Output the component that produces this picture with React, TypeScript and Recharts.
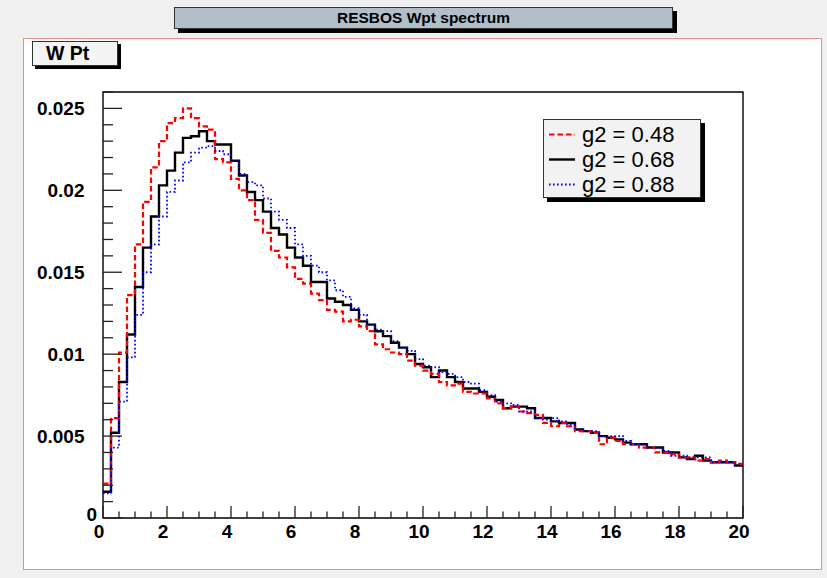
import React from "react";
import { LineChart, Line, XAxis, YAxis, ReferenceArea } from "recharts";

// Histogram: W transverse momentum spectrum, 80 bins of 0.25 GeV from 0 to 20
const BIN_WIDTH = 0.25;
const N_BINS = 80;

const G2_048 = [
  0.0021, 0.0061, 0.0101, 0.0136, 0.0167, 0.0193, 0.0214, 0.0230, 0.0241, 0.0244,
  0.0250, 0.0244, 0.0239, 0.0237, 0.0219, 0.0217, 0.0207, 0.0200, 0.0194, 0.0182,
  0.0174, 0.0163, 0.0159, 0.0153, 0.0146, 0.0143, 0.0137, 0.0133, 0.0127, 0.0126,
  0.0120, 0.0121, 0.0117, 0.0114, 0.0106, 0.0103, 0.0101, 0.0100, 0.0096, 0.0093,
  0.0090, 0.0088, 0.0083, 0.0081, 0.0082, 0.0077, 0.0076, 0.0076, 0.0073, 0.0070,
  0.0067, 0.0068, 0.0065, 0.0064, 0.0063, 0.0058, 0.0056, 0.0058, 0.0056, 0.0053,
  0.0053, 0.0052, 0.0045, 0.0049, 0.0047, 0.0045, 0.0045, 0.0043, 0.0043, 0.0040,
  0.0040, 0.0039, 0.0037, 0.0037, 0.0035, 0.0036, 0.0034, 0.0035, 0.0034, 0.0033,
];

const G2_068 = [
  0.0016, 0.0052, 0.0083, 0.0112, 0.0141, 0.0165, 0.0184, 0.0203, 0.0212, 0.0223,
  0.0232, 0.0233, 0.0236, 0.0230, 0.0228, 0.0228, 0.0218, 0.0209, 0.0199, 0.0194,
  0.0187, 0.0177, 0.0173, 0.0165, 0.0159, 0.0154, 0.0144, 0.0144, 0.0134, 0.0132,
  0.0130, 0.0127, 0.0120, 0.0118, 0.0114, 0.0111, 0.0107, 0.0104, 0.0100, 0.0094,
  0.0092, 0.0086, 0.0090, 0.0086, 0.0083, 0.0079, 0.0079, 0.0077, 0.0074, 0.0072,
  0.0067, 0.0068, 0.0068, 0.0067, 0.0061, 0.0061, 0.0059, 0.0058, 0.0058, 0.0054,
  0.0053, 0.0052, 0.0050, 0.0049, 0.0048, 0.0046, 0.0045, 0.0045, 0.0043, 0.0043,
  0.0040, 0.0040, 0.0037, 0.0036, 0.0038, 0.0035, 0.0034, 0.0034, 0.0034, 0.0032,
];

const G2_088 = [
  0.0015, 0.0043, 0.0071, 0.0098, 0.0124, 0.0150, 0.0167, 0.0184, 0.0199, 0.0206,
  0.0217, 0.0223, 0.0226, 0.0227, 0.0224, 0.0222, 0.0218, 0.0210, 0.0205, 0.0203,
  0.0195, 0.0187, 0.0182, 0.0177, 0.0167, 0.0160, 0.0154, 0.0150, 0.0145, 0.0139,
  0.0135, 0.0128, 0.0124, 0.0118, 0.0115, 0.0114, 0.0108, 0.0104, 0.0102, 0.0097,
  0.0093, 0.0092, 0.0089, 0.0088, 0.0086, 0.0083, 0.0082, 0.0078, 0.0075, 0.0071,
  0.0070, 0.0069, 0.0065, 0.0065, 0.0061, 0.0060, 0.0061, 0.0059, 0.0057, 0.0054,
  0.0053, 0.0053, 0.0050, 0.0050, 0.0050, 0.0047, 0.0045, 0.0045, 0.0043, 0.0043,
  0.0041, 0.0038, 0.0038, 0.0037, 0.0037, 0.0037, 0.0034, 0.0034, 0.0034, 0.0033,
];

const X_MAJOR_TICKS = [0, 2, 4, 6, 8, 10, 12, 14, 16, 18, 20];
const X_TICK_LABELS = ["0", "2", "4", "6", "8", "10", "12", "14", "16", "18", "20"];
const X_MINOR_STEP = 0.5;

const Y_MAJOR_TICKS = [0, 0.005, 0.01, 0.015, 0.02, 0.025];
const Y_TICK_LABELS = ["0", "0.005", "0.01", "0.015", "0.02", "0.025"];
const Y_MINOR_STEP = 0.001;
const Y_MAX = 0.026;
const X_MAX = 20;

const TITLE = "RESBOS Wpt spectrum";
const HIST_NAME = "W Pt";

const SERIES = [
  { key: "g048", label: "g2 = 0.48", values: G2_048, color: "#ff0000", width: 2.2, dash: "5.5 3" },
  { key: "g068", label: "g2 = 0.68", values: G2_068, color: "#000000", width: 2.4, dash: undefined as string | undefined },
  { key: "g088", label: "g2 = 0.88", values: G2_088, color: "#0000ff", width: 1.8, dash: "1.6 2.4" },
];
const DRAW_ORDER = ["g068", "g048", "g088"];

// step data: one point at each bin's lower edge, plus the closing edge
const DATA = Array.from({ length: N_BINS + 1 }, (_, i) => {
  const row: Record<string, number> = { pt: i * BIN_WIDTH };
  SERIES.forEach((s) => {
    row[s.key] = s.values[Math.min(i, N_BINS - 1)];
  });
  return row;
});

const round = (v: number, d: number) => Math.round(v * 10 ** d) / 10 ** d;
const X_TICKS = Array.from({ length: Math.round(X_MAX / X_MINOR_STEP) + 1 }, (_, i) => round(i * X_MINOR_STEP, 3));
const Y_TICKS = Array.from({ length: Math.round(Y_MAX / Y_MINOR_STEP) + 1 }, (_, i) => round(i * Y_MINOR_STEP, 4));

const AXIS_FONT = "'Liberation Sans', Arial, Helvetica, sans-serif";

const XTick = (props: any) => {
  const { x, y, payload } = props;
  const v = payload.value as number;
  const idx = X_MAJOR_TICKS.findIndex((t) => Math.abs(t - v) < 1e-6);
  const major = idx >= 0;
  return (
    <g>
      <line x1={x} x2={x} y1={y} y2={y - (major ? 12 : 6.5)} stroke="#222" strokeWidth={1.3} />
      {major && (
        <text x={x - 4} y={y + 20} textAnchor="middle" fontFamily={AXIS_FONT} fontWeight="bold" fontSize={19} fill="#000">
          {X_TICK_LABELS[idx]}
        </text>
      )}
    </g>
  );
};

const YTick = (props: any) => {
  const { x, y, payload } = props;
  const v = payload.value as number;
  const idx = Y_MAJOR_TICKS.findIndex((t) => Math.abs(t - v) < 1e-7);
  const major = idx >= 0;
  const isZero = major && Y_MAJOR_TICKS[idx] === 0;
  return (
    <g>
      <line x1={x} x2={x + (major ? 19 : 10)} y1={y} y2={y} stroke="#222" strokeWidth={1.3} />
      {major && (
        <text
          x={isZero ? x - 6 : x - 18.5}
          y={isZero ? y + 2.5 : y + 7}
          textAnchor="end"
          fontFamily={AXIS_FONT}
          fontWeight="bold"
          fontSize={19}
          fill="#000"
        >
          {Y_TICK_LABELS[idx]}
        </text>
      )}
    </g>
  );
};

export default function App() {
  const ordered = DRAW_ORDER.map((k) => SERIES.find((s) => s.key === k)!);
  return (
    <div style={{ position: "absolute", left: 0, top: 0, width: 827, height: 578, background: "#f0f0f0", overflow: "hidden", fontFamily: AXIS_FONT }}>
      {/* pad */}
      <div style={{ position: "absolute", left: 23, top: 38, width: 797, height: 530, background: "#ffffff", border: "1px solid #e58f8f" }} />
      {/* title box */}
      <div
        style={{
          position: "absolute", left: 174, top: 7, width: 497, height: 20, background: "#b2bfc9",
          border: "1px solid #333", boxShadow: "4px 4px 0 #000", display: "flex", alignItems: "center",
          justifyContent: "center", fontWeight: "bold", fontSize: 15.5, color: "#000",
        }}
      >
        {TITLE}
      </div>
      {/* histogram name box */}
      <div
        style={{
          position: "absolute", left: 32, top: 41, width: 86, height: 25, background: "#f4f4f4",
          border: "1px solid #333", boxShadow: "3px 3px 0 #000", display: "flex", alignItems: "center",
          paddingLeft: 13, boxSizing: "border-box", fontWeight: "bold", fontSize: 19.5, color: "#000",
        }}
      >
        {HIST_NAME}
      </div>
      <div style={{ position: "absolute", left: 0, top: 0 }}>
        <LineChart width={827} height={578} data={DATA} margin={{ top: 92, right: 84, bottom: 30, left: 43 }}>
          <XAxis
            dataKey="pt"
            type="number"
            domain={[0, X_MAX]}
            ticks={X_TICKS}
            interval={0}
            tickSize={0}
            tickMargin={0}
            tickLine={false}
            axisLine={false}
            height={30}
            tick={<XTick />}
            allowDataOverflow
          />
          <YAxis
            type="number"
            domain={[0, Y_MAX]}
            ticks={Y_TICKS}
            interval={0}
            tickSize={0}
            tickMargin={0}
            tickLine={false}
            axisLine={false}
            width={60}
            tick={<YTick />}
            allowDataOverflow
          />
          <ReferenceArea x1={0} x2={X_MAX} y1={0} y2={Y_MAX} fill="none" stroke="#000" strokeWidth={1.4} ifOverflow="visible" />
          {ordered.map((s) => (
            <Line
              key={s.key}
              type="stepAfter"
              dataKey={s.key}
              stroke={s.color}
              strokeWidth={s.width}
              strokeDasharray={s.dash}
              dot={false}
              activeDot={false}
              isAnimationActive={false}
            />
          ))}
        </LineChart>
      </div>
      {/* legend */}
      <div
        style={{
          position: "absolute", left: 543, top: 119, width: 158, height: 79, background: "#f2f2f2",
          border: "1px solid #333", boxShadow: "4px 4px 0 #000", boxSizing: "border-box",
          paddingTop: 2,
        }}
      >
        {SERIES.map((s) => (
          <div key={s.key} style={{ display: "flex", alignItems: "center", height: 25 }}>
            <svg width={36} height={25} style={{ flex: "0 0 auto" }}>
              <line x1={5} x2={31} y1={12.5} y2={12.5} stroke={s.color} strokeWidth={s.width} strokeDasharray={s.dash} />
            </svg>
            <span style={{ fontSize: 22, color: "#000", lineHeight: "25px", marginLeft: 2 }}>{s.label}</span>
          </div>
        ))}
      </div>
    </div>
  );
}
